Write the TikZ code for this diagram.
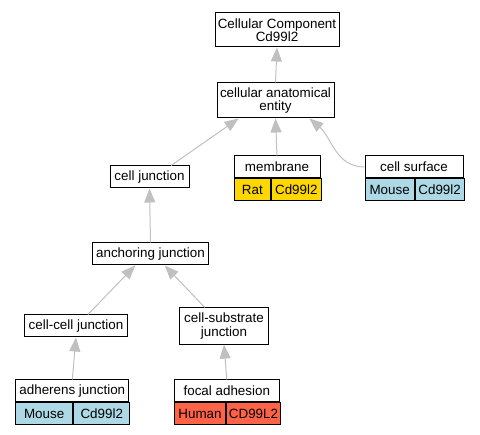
\documentclass[tikz,border=0pt]{standalone}
\usepackage{fontspec}
\setmainfont{Liberation Sans}
\usepackage{tikz}
\usetikzlibrary{arrows.meta,backgrounds,calc}
\definecolor{mousecol}{HTML}{ADD8E6}
\definecolor{ratcol}{HTML}{FFD700}
\definecolor{humancol}{HTML}{FF6347}
\definecolor{edgecol}{HTML}{C0C0C0}

\begin{document}
\begin{tikzpicture}[x=1pt,y=-1pt,
  term/.style={draw, line width=1pt, inner sep=0pt, align=center,
    font=\fontsize{13.4}{13.5}\selectfont},
  cell/.style={term, minimum height=22pt},
  edge/.style={draw=edgecol, line width=1pt, -{Triangle[width=11pt,length=14pt]}}]
\useasboundingbox (0,0) rectangle (480,435);

\node[term, minimum width=124pt, minimum height=34pt] (cc) at (277,30) {Cellular Component\\Cd99l2};
\node[term, minimum width=117pt, minimum height=35pt] (cae) at (275.5,100.5) {cellular anatomical\\entity};
\node[cell, minimum width=79pt] (cj) at (149.5,177) {cell junction};

\node[cell, minimum width=86pt] (mem) at (277,167) {membrane};
\node[cell, minimum width=36.7pt, fill=ratcol, anchor=north west] (memrat) at (mem.south west) {Rat};
\node[cell, minimum width=49.3pt, fill=ratcol, anchor=north west] (memgene) at (memrat.north east) {Cd99l2};

\node[cell, minimum width=98pt] (cs) at (414,167) {cell surface};
\node[cell, minimum width=49.3pt, fill=mousecol, anchor=north west] (csmouse) at (cs.south west) {Mouse};
\node[cell, minimum width=48.7pt, fill=mousecol, anchor=north west] (csgene) at (csmouse.north east) {Cd99l2};

\node[cell, minimum width=115.6pt] (anch) at (150.5,254) {anchoring junction};
\node[cell, minimum width=102.7pt] (ccj) at (76,326) {cell-cell junction};
\node[term, minimum width=88.3pt, minimum height=36.3pt] (csj) at (224,326) {cell-substrate\\junction};

\node[cell, minimum width=113.3pt] (adh) at (72.3,391) {adherens junction};
\node[cell, minimum width=57pt, fill=mousecol, anchor=north west] (adhmouse) at (adh.south west) {Mouse};
\node[cell, minimum width=56.3pt, fill=mousecol, anchor=north west] (adhgene) at (adhmouse.north east) {Cd99l2};

\node[cell, minimum width=105pt] (fa) at (226.8,391) {focal adhesion};
\node[cell, minimum width=51.4pt, fill=humancol, anchor=north west] (fahuman) at (fa.south west) {Human};
\node[cell, minimum width=53.6pt, fill=humancol, anchor=north west] (fagene) at (fahuman.north east) {CD99L2};

\draw[edge] (cae.north) -- (cc.south);
\draw[edge] (cj.28) -- (cae.206);
\draw[edge] (mem.north) -- (cae.south);
\draw[edge] (cs.west) to[out=180,in=-40] (cae.332);
\draw[edge] (anch.north) -- (cj.south);
\draw[edge] (ccj.44) -- (anch.217);
\draw[edge] (csj.136) -- (anch.321);
\draw[edge] (adh.north) -- (ccj.south);
\draw[edge] (fa.north) -- (csj.south);
\end{tikzpicture}
\end{document}
